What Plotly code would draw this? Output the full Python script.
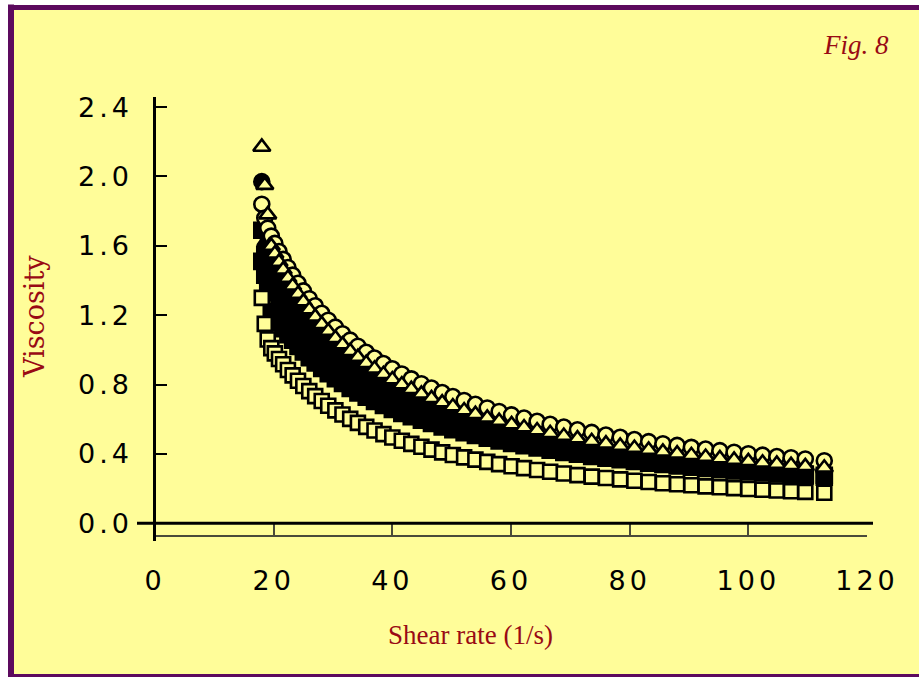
import plotly.graph_objects as go

# Shear rate (1/s), shared by all series
shear_rate = [18.0, 18.5, 19.0, 19.6, 20.2, 20.9, 21.6, 22.4, 23.2, 24.1, 25.0, 26.0, 27.0, 28.1,
              29.2, 30.4, 31.6, 32.9, 34.2, 35.6, 37.0, 38.5, 40.0, 41.6, 43.2, 44.9, 46.6, 48.4,
              50.2, 52.1, 54.0, 56.0, 58.0, 60.1, 62.2, 64.4, 66.6, 68.9, 71.2, 73.6, 76.0, 78.4,
              80.8, 83.2, 85.6, 88.0, 90.4, 92.8, 95.2, 97.6, 100.0, 102.4, 104.8, 107.2, 109.6, 112.8]

open_circles = [1.84, 1.76, 1.702, 1.656, 1.614, 1.567, 1.522, 1.475, 1.431, 1.384, 1.340, 1.295,
                1.254, 1.211, 1.171, 1.131, 1.093, 1.056, 1.021, 0.986, 0.953, 0.921, 0.891, 0.861,
                0.833, 0.805, 0.780, 0.754, 0.731, 0.708, 0.686, 0.665, 0.645, 0.625, 0.607, 0.588,
                0.571, 0.555, 0.539, 0.524, 0.509, 0.496, 0.483, 0.471, 0.459, 0.449, 0.438, 0.428,
                0.419, 0.410, 0.401, 0.393, 0.385, 0.378, 0.371, 0.361]

open_triangles = [2.17, 1.95, 1.78, 1.598, 1.554, 1.507, 1.462, 1.414, 1.369, 1.322, 1.278, 1.232,
                  1.190, 1.148, 1.108, 1.067, 1.030, 0.992, 0.958, 0.923, 0.891, 0.859, 0.829, 0.800,
                  0.773, 0.746, 0.720, 0.696, 0.673, 0.650, 0.629, 0.608, 0.589, 0.570, 0.552, 0.535,
                  0.519, 0.503, 0.488, 0.473, 0.459, 0.446, 0.434, 0.423, 0.412, 0.401, 0.392, 0.382,
                  0.374, 0.365, 0.357, 0.349, 0.342, 0.335, 0.328, 0.320]

filled_circles = [1.97, 1.59, 1.617, 1.570, 1.525, 1.477, 1.431, 1.383, 1.337, 1.290, 1.246, 1.200,
                  1.158, 1.115, 1.075, 1.034, 0.997, 0.959, 0.925, 0.890, 0.858, 0.827, 0.797, 0.768,
                  0.741, 0.714, 0.689, 0.665, 0.642, 0.620, 0.599, 0.579, 0.560, 0.541, 0.524, 0.507,
                  0.491, 0.475, 0.461, 0.447, 0.433, 0.421, 0.409, 0.397, 0.387, 0.377, 0.367, 0.358,
                  0.350, 0.342, 0.334, 0.326, 0.319, 0.313, 0.306, 0.298]

filled_squares_a = [1.69, 1.55, 1.425, 1.385, 1.347, 1.306, 1.267, 1.225, 1.186, 1.145, 1.107, 1.068,
                    1.032, 0.995, 0.960, 0.925, 0.893, 0.860, 0.830, 0.800, 0.772, 0.744, 0.719, 0.693,
                    0.670, 0.646, 0.624, 0.603, 0.583, 0.564, 0.545, 0.527, 0.511, 0.494, 0.479, 0.464,
                    0.450, 0.436, 0.423, 0.410, 0.398, 0.387, 0.376, 0.366, 0.357, 0.348, 0.339, 0.331,
                    0.324, 0.316, 0.309, 0.303, 0.296, 0.290, 0.284, 0.277]

filled_squares_b = [1.51, 1.43, 1.33, 1.221, 1.190, 1.155, 1.122, 1.087, 1.055, 1.020, 0.988, 0.955,
                    0.924, 0.893, 0.863, 0.834, 0.806, 0.778, 0.752, 0.727, 0.703, 0.679, 0.657, 0.634,
                    0.614, 0.594, 0.575, 0.556, 0.539, 0.522, 0.506, 0.490, 0.475, 0.461, 0.447, 0.434,
                    0.421, 0.409, 0.398, 0.386, 0.376, 0.366, 0.356, 0.347, 0.339, 0.331, 0.323, 0.316,
                    0.309, 0.302, 0.296, 0.290, 0.284, 0.278, 0.273, 0.266]

open_squares = [1.30, 1.15, 1.06, 1.010, 0.980, 0.947, 0.917, 0.884, 0.853, 0.822, 0.792, 0.762,
                0.733, 0.705, 0.678, 0.651, 0.627, 0.602, 0.579, 0.556, 0.535, 0.514, 0.495, 0.476,
                0.458, 0.441, 0.425, 0.409, 0.394, 0.380, 0.367, 0.354, 0.341, 0.329, 0.318, 0.307,
                0.297, 0.287, 0.278, 0.269, 0.261, 0.253, 0.245, 0.238, 0.231, 0.225, 0.219, 0.213,
                0.208, 0.203, 0.198, 0.193, 0.189, 0.185, 0.181, 0.176]

x_ticks = [0, 20, 40, 60, 80, 100, 120]
x_tick_text = ["0", "20", "40", "60", "80", "100", "120"]
y_ticks = [0.0, 0.4, 0.8, 1.2, 1.6, 2.0, 2.4]
y_tick_text = ["0.0", "0.4", "0.8", "1.2", "1.6", "2.0", "2.4"]

YELLOW = "#fffd99"
PURPLE = "#5c0a5e"
RED = "#990a14"

fig = go.Figure()

series = [
    (filled_squares_b, "square", "black", 15),
    (filled_squares_a, "square", "black", 15),
    (filled_circles, "circle", "black", 15),
    (open_circles, "circle", YELLOW, 15),
    (open_triangles, "triangle-up", YELLOW, 15),
    (open_squares, "square", YELLOW, 14),
]
for ys, sym, fill, size in series:
    fig.add_trace(go.Scatter(
        x=shear_rate, y=ys, mode="markers",
        marker=dict(symbol=sym, size=size, color=fill,
                    line=dict(color="black", width=2.6)),
        showlegend=False, hoverinfo="skip"))

W, H = 919, 677
L, R, T, B = 155, 52, 97, 142
pw, ph = W - L - R, H - T - B


def px(x):
    return (x - L) / pw


def py(y):
    return (H - B - y) / ph


shapes = [
    # yellow panel
    dict(type="rect", xref="paper", yref="paper", layer="below",
         x0=px(11), x1=px(1000), y0=py(7.5), y1=py(676),
         fillcolor=YELLOW, line=dict(width=0)),
    # purple frame: left, top, bottom
    dict(type="line", xref="paper", yref="paper", layer="below",
         x0=px(11), x1=px(11), y0=py(4.5), y1=py(679),
         line=dict(color=PURPLE, width=6)),
    dict(type="line", xref="paper", yref="paper", layer="below",
         x0=px(8), x1=px(1000), y0=py(7.5), y1=py(7.5),
         line=dict(color=PURPLE, width=5)),
    dict(type="line", xref="paper", yref="paper", layer="below",
         x0=px(8), x1=px(1000), y0=py(676), y1=py(676),
         line=dict(color=PURPLE, width=4)),
    # zero line extended
    dict(type="line", xref="paper", yref="y", x0=px(137), x1=px(873), y0=0, y1=0,
         line=dict(color="black", width=3)),
    # y axis line extended below
    dict(type="line", xref="paper", yref="paper", x0=px(154.5), x1=px(154.5),
         y0=py(541), y1=py(97), line=dict(color="black", width=3)),
]

fig.update_layout(
    width=W, height=H,
    margin=dict(l=L, r=R, t=T, b=B),
    paper_bgcolor="white",
    plot_bgcolor="rgba(0,0,0,0)",
    shapes=shapes,
    xaxis=dict(range=[0, 120], tickvals=x_ticks, ticktext=x_tick_text,
               ticks="inside", ticklen=12, tickwidth=2, tickcolor="#4a4a3a",
               showline=True, linecolor="#4a4a3a", linewidth=2, mirror=False,
               showgrid=False, zeroline=False, ticklabelstandoff=21,
               tickfont=dict(family="DejaVu Sans", size=27, color="black")),
    yaxis=dict(range=[-0.0675, 2.458], tickvals=y_ticks, ticktext=y_tick_text,
               ticks="inside", ticklen=12, tickwidth=2, tickcolor="black",
               showline=False, showgrid=False, zeroline=False, ticklabelstandoff=21,
               tickfont=dict(family="DejaVu Sans", size=27, color="black")),
    annotations=[
        dict(text="Viscosity", xref="paper", yref="paper", x=px(34), y=py(317),
             xanchor="center", yanchor="middle", textangle=-90, showarrow=False,
             font=dict(family="DejaVu Serif", size=27, color=RED)),
        dict(text="Shear rate (1/s)", xref="paper", yref="paper", x=px(470), y=py(635),
             xanchor="center", yanchor="middle", showarrow=False,
             font=dict(family="Liberation Serif", size=27, color=RED)),
        dict(text="<i>Fig. 8</i>", xref="paper", yref="paper", x=px(891), y=py(45),
             xanchor="right", yanchor="middle", showarrow=False,
             font=dict(family="Liberation Serif", size=27, color=RED)),
    ],
)

post = """
document.body.style.margin = '0';
var ts = document.querySelectorAll('.xtick text, .ytick text');
ts.forEach(function(t){ t.style.letterSpacing = '4px'; });
"""
fig.write_html("out.html", post_script=post, config={"displayModeBar": False})
